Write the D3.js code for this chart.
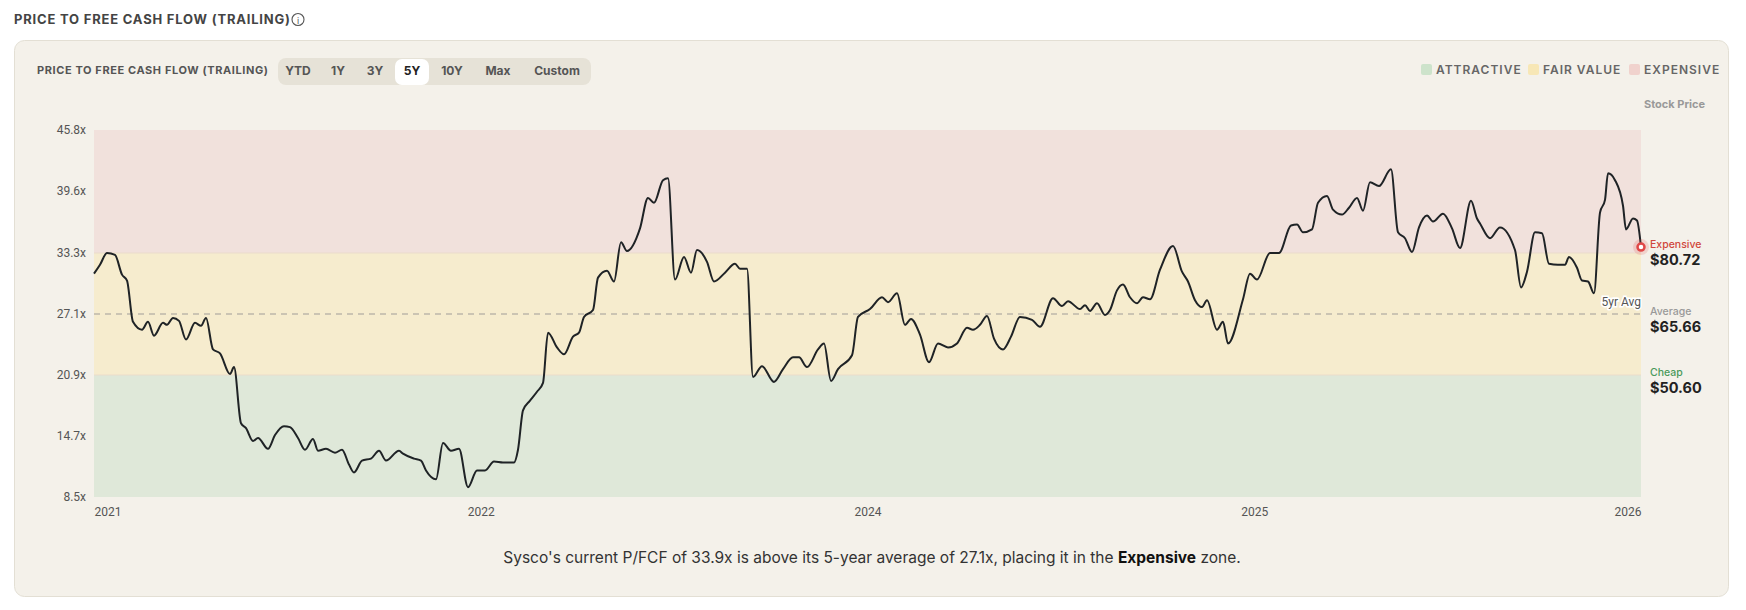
<!DOCTYPE html>
<html><head><meta charset="utf-8">
<script src="https://cdn.jsdelivr.net/npm/d3@7"></script>
<style>body{margin:0;background:#fff;} svg{display:block;font-family:Inter,"Open Sans",sans-serif;}</style>
</head><body><svg id="c" width="1746" height="610"></svg>
<script>
// time offsets (arbitrary units along 5-year span, 0..1547) and P/FCF values
const tIdx = [0,6,13,21,28,33,39,48,54,60,69,73,79,85,92,101,107,112,119,126,136,140,147,152,159,164,174,181,190,196,204,211,219,224,232,241,248,255,260,268,277,285,292,305,309,320,327,332,342,349,357,365,374,383,391,400,409,420,424,429,436,443,449,454,463,470,479,485,490,499,504,513,520,527,533,546,554,560,569,574,581,590,597,603,613,620,631,641,646,653,659,668,680,689,699,705,713,724,730,737,744,758,764,776,788,794,803,811,817,826,835,844,854,863,873,879,886,893,900,909,917,926,938,946,959,968,974,986,991,996,1003,1011,1016,1023,1029,1036,1043,1049,1056,1066,1079,1088,1094,1101,1108,1113,1123,1129,1134,1149,1156,1163,1176,1185,1197,1203,1209,1218,1224,1233,1239,1248,1255,1263,1269,1276,1285,1297,1304,1311,1318,1325,1333,1339,1349,1358,1366,1377,1383,1386,1396,1406,1421,1427,1433,1441,1448,1455,1464,1471,1475,1483,1488,1494,1500,1506,1511,1514,1521,1529,1532,1539,1543,1547];
const pfcf = [31.2,32.1,33.3,33.1,31.1,30.5,26.3,25.5,26.3,24.9,26.2,26.0,26.7,26.4,24.5,26.2,25.9,26.7,23.5,23.1,21.0,21.7,16.0,15.5,14.2,14.5,13.4,14.8,15.7,15.6,14.5,13.3,14.4,13.2,13.4,13.0,13.3,11.8,11.0,12.2,12.4,13.2,12.2,13.2,12.9,12.4,12.2,11.2,10.3,14.0,13.2,13.4,9.5,11.2,11.2,12.1,12.0,12.0,13.3,17.3,18.3,19.2,20.1,25.2,23.7,23.0,24.8,25.2,26.8,27.5,30.8,31.5,30.4,34.4,33.5,35.8,38.9,38.4,40.7,40.9,30.6,32.9,31.3,33.6,32.4,30.4,31.3,32.2,31.7,31.7,20.7,21.8,20.2,21.5,22.7,22.7,21.7,23.5,24.1,20.3,21.5,22.9,26.8,27.6,28.8,28.3,29.2,26.0,26.6,25.0,22.2,24.1,23.7,24.1,25.7,25.5,26.0,26.9,24.6,23.5,24.8,26.8,26.5,25.8,28.7,27.9,28.4,27.6,28.0,27.4,28.2,27.0,27.5,29.5,30.1,28.8,28.2,28.8,28.6,31.6,34.0,31.4,30.4,28.5,27.8,28.5,25.5,26.3,24.1,28.6,31.2,30.6,33.3,33.3,36.1,36.2,35.4,35.7,38.4,39.1,37.7,37.2,37.9,38.9,37.6,40.5,40.1,41.8,35.4,34.8,33.4,35.9,37.1,36.5,37.3,35.8,33.8,38.6,36.8,36.3,34.8,35.9,33.6,29.8,31.4,35.4,35.3,32.2,32.1,32.1,32.9,31.8,30.5,30.4,29.2,37.4,38.7,41.4,40.7,38.1,35.7,36.8,36.6,33.9];
const yTicks = [8.5,14.7,20.9,27.1,33.3,39.6,45.8];
const xTickLabels = ["2021","2022","2024","2025","2026"];
const zones = [{name:"ATTRACTIVE",lo:8.5,hi:20.9,fill:"#dfe8d9",key:"#cde3cb"},{name:"FAIR VALUE",lo:20.9,hi:33.3,fill:"#f6ecce",key:"#f7e7b6"},{name:"EXPENSIVE",lo:33.3,hi:45.8,fill:"#f1e1dc",key:"#f0d2cd"}];
const avg = 27.1;
const ranges = ["YTD","1Y","3Y","5Y","10Y","Max","Custom"];
const priceLabels = [{label:"Expensive",price:"$80.72",v:33.9,color:"#d0463b"},{label:"Average",price:"$65.66",v:27.1,color:"#999"},{label:"Cheap",price:"$50.60",v:20.9,color:"#4a9a5a"}];

const svg = d3.select("#c");
const L=94,R=1641,T=130,B=497;
const x = d3.scaleLinear().domain([0,1547]).range([L,R]);
const y = d3.scaleLinear().domain([8.5,45.8]).range([B,T]);

svg.append("text").attr("x",14).attr("y",24).attr("font-size",13).attr("font-weight",700).attr("letter-spacing",0.8).attr("fill","#444").text("PRICE TO FREE CASH FLOW (TRAILING)");
svg.append("circle").attr("cx",298).attr("cy",19.5).attr("r",6).attr("fill","none").attr("stroke","#555").attr("stroke-width",1.1);
svg.append("text").attr("x",298).attr("y",23.5).attr("text-anchor","middle").attr("font-size",9).attr("fill","#555").text("i");

svg.append("rect").attr("x",14.5).attr("y",40.5).attr("width",1714).attr("height",556).attr("rx",10).attr("fill","#f4f1ea").attr("stroke","#e3dfd4");

svg.append("text").attr("x",37).attr("y",74).attr("font-size",11).attr("font-weight",700).attr("letter-spacing",0.6).attr("fill","#555").text("PRICE TO FREE CASH FLOW (TRAILING)");
svg.append("rect").attr("x",278).attr("y",58).attr("width",313).attr("height",27).attr("rx",8).attr("fill","#e6e2d7");
const bx=[298,338,375,412,452,498,557];
svg.append("rect").attr("x",395).attr("y",59).attr("width",34).attr("height",26).attr("rx",7).attr("fill","#fff");
ranges.forEach((r,i)=>svg.append("text").attr("x",bx[i]).attr("y",75).attr("text-anchor","middle").attr("font-size",12).attr("font-weight",700).attr("fill",r==="5Y"?"#222":"#555").text(r));

const lx=[1421,1528,1629];
zones.forEach((z,i)=>{
  svg.append("rect").attr("x",lx[i]).attr("y",64).attr("width",11).attr("height",11).attr("rx",2).attr("fill",z.key);
  svg.append("text").attr("x",lx[i]+15).attr("y",74).attr("font-size",12).attr("font-weight",600).attr("letter-spacing",1).attr("fill","#666").text(z.name);
});
svg.append("text").attr("x",1705).attr("y",108).attr("text-anchor","end").attr("font-size",11).attr("font-weight",700).attr("fill","#999").text("Stock Price");

svg.selectAll(".zone").data(zones).enter().append("rect").attr("x",L).attr("width",R-L).attr("y",d=>y(d.hi)).attr("height",d=>y(d.lo)-y(d.hi)).attr("fill",d=>d.fill);
[20.9,33.3].forEach(v=>svg.append("line").attr("x1",L).attr("x2",R).attr("y1",y(v)).attr("y2",y(v)).attr("stroke","#ebdccb").attr("stroke-width",1));
svg.append("line").attr("x1",L).attr("x2",R).attr("y1",y(avg)).attr("y2",y(avg)).attr("stroke","#bdb6ab").attr("stroke-width",1.3).attr("stroke-dasharray","6,5");

const ya = svg.append("g").attr("transform",`translate(${L},0)`).call(d3.axisLeft(y).tickValues(yTicks).tickFormat(d=>d+"x").tickSize(0).tickPadding(8));
ya.select(".domain").remove();
ya.selectAll("text").attr("font-size",12).attr("fill","#555").attr("font-family","Roboto,sans-serif");
const xa = svg.append("g").attr("transform",`translate(0,${B})`).call(d3.axisBottom(x).tickValues(xTickLabels.map((d,i)=>i*1547/4)).tickFormat((d,i)=>xTickLabels[i]).tickSize(0).tickPadding(10));
xa.select(".domain").remove();
xa.selectAll("text").attr("font-size",12).attr("fill","#555").attr("font-family","Roboto,sans-serif").attr("text-anchor",(d,i)=>i===0?"start":i===4?"end":"middle");

const data = tIdx.map((t,i)=>[t,pfcf[i]]);
svg.append("path").datum(data).attr("fill","none").attr("stroke","#1f2326").attr("stroke-width",2).attr("stroke-linejoin","round")
  .attr("d",d3.line().x(d=>x(d[0])).y(d=>y(d[1])).curve(d3.curveMonotoneX));

svg.append("text").attr("x",R).attr("y",y(avg)-8).attr("text-anchor","end").attr("font-size",12).attr("fill","#555").attr("stroke","#fff").attr("stroke-width",3).attr("paint-order","stroke").attr("font-family","Roboto,sans-serif").text("5yr Avg");

const last = data[data.length-1];
svg.append("circle").attr("cx",x(last[0])).attr("cy",y(last[1])).attr("r",8).attr("fill","rgba(224,80,80,0.18)");
svg.append("circle").attr("cx",x(last[0])).attr("cy",y(last[1])).attr("r",3.5).attr("fill","#fff").attr("stroke","#e04848").attr("stroke-width",2.5);

priceLabels.forEach(p=>{
  const yy=y(p.v);
  svg.append("text").attr("x",1650).attr("y",yy+1).attr("font-size",10.5).attr("font-weight",500).attr("fill",p.color).text(p.label);
  svg.append("text").attr("x",1650).attr("y",yy+18).attr("font-size",14.5).attr("font-weight",700).attr("fill","#222").text(p.price);
});

const cap = svg.append("text").attr("x",872).attr("y",563).attr("text-anchor","middle").attr("font-size",15.5).attr("fill","#333");
cap.append("tspan").text("Sysco's current P/FCF of 33.9x is above its 5-year average of 27.1x, placing it in the ");
cap.append("tspan").attr("font-weight",700).attr("fill","#111").text("Expensive");
cap.append("tspan").text(" zone.");
</script></body></html>
